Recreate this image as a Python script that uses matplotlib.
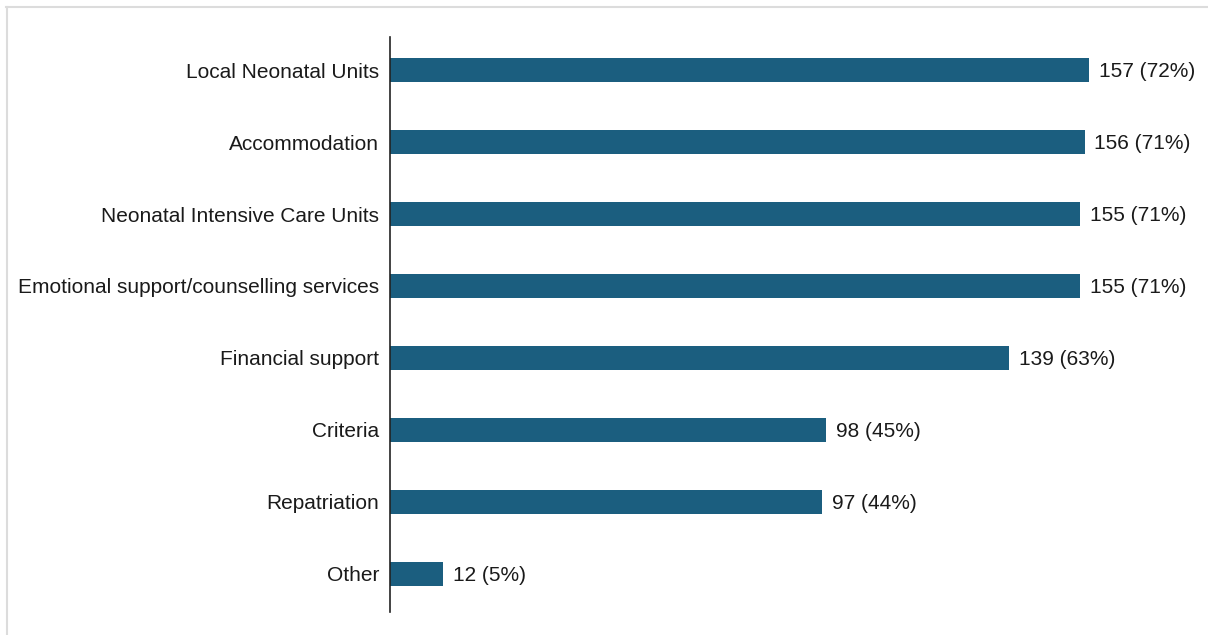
import matplotlib.pyplot as plt
from matplotlib.lines import Line2D

categories = [
    "Local Neonatal Units",
    "Accommodation",
    "Neonatal Intensive Care Units",
    "Emotional support/counselling services",
    "Financial support",
    "Criteria",
    "Repatriation",
    "Other",
]
counts = [157, 156, 155, 155, 139, 98, 97, 12]
percents = [72, 71, 71, 71, 63, 45, 44, 5]

bar_color = "#1b5e7f"
font = ["Liberation Sans Narrow", "Liberation Sans", "DejaVu Sans"]

fig = plt.figure(figsize=(12.08, 6.35), dpi=100)
ax = fig.add_axes([390 / 1208, 1 - 612 / 635, 800 / 1208, 575 / 635])

pos = list(range(len(categories)))
ax.barh(pos, counts, height=0.34, color=bar_color)

# count and share just past the end of each bar
for y, c, p in zip(pos, counts, percents):
    ax.annotate(f"{c} ({p}%)", (c, y), xytext=(7, -1.2), textcoords="offset points",
                va="center", ha="left", fontsize=15, family=font, color="#1a1a1a")

ax.set_yticks(pos)
ax.set_yticklabels(categories, family=font, fontsize=15, color="#1a1a1a")
ax.tick_params(axis="y", length=0, pad=8)
ax.set_xticks([])
ax.set_xlim(0, 800 / 4.452)
ax.set_ylim(7.53, -0.46)

for side in ["top", "right", "bottom"]:
    ax.spines[side].set_visible(False)
ax.spines["left"].set_color("#222222")
ax.spines["left"].set_linewidth(1.2)

# light frame along the top and left edges
fig.add_artist(Line2D([6 / 1208, 1], [1 - 7 / 635, 1 - 7 / 635], color="#dcdcdc", lw=1.5,
                      transform=fig.transFigure))
fig.add_artist(Line2D([7 / 1208, 7 / 1208], [0, 1 - 7 / 635], color="#dcdcdc", lw=1.5,
                      transform=fig.transFigure))

fig.savefig("out.png", dpi=100)
